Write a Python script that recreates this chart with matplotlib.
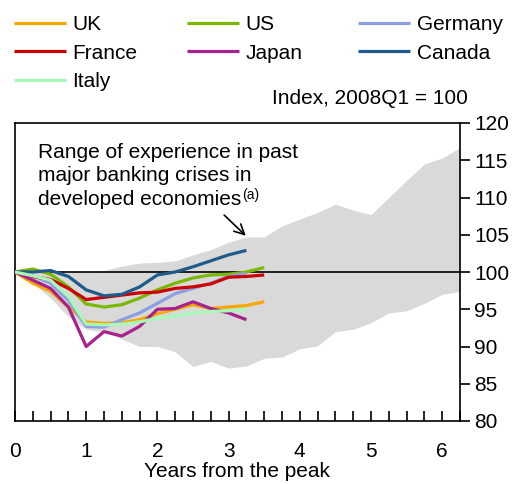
import matplotlib.pyplot as plt
import numpy as np

plt.rcParams['font.family'] = ['Liberation Sans', 'DejaVu Sans']

# quarters after the peak (years)
years = np.arange(0, 6.5, 0.25)

# range of past banking crises (grey band)
band_lo = [100, 98.5, 96.5, 94.0, 92.3, 92.0, 91.0, 90.0, 90.0, 89.3, 87.3, 88.0, 87.1,
           87.4, 88.4, 88.6, 89.7, 90.1, 92.0, 92.3, 93.2, 94.5, 94.8, 95.8, 97.0, 97.4]
band_hi = [100, 100, 100, 100, 100, 100.2, 100.8, 101.2, 101.3, 101.5, 102.3, 103.0, 104.0,
           104.7, 104.7, 106.2, 107.1, 108.0, 109.1, 108.3, 107.7, 110.0, 112.3, 114.5, 115.3, 116.7]

uk = [100, 98.5, 97.4, 95.3, 93.3, 93.1, 93.2, 93.6, 94.4, 95.0, 95.6, 95.1, 95.3, 95.5, 96.0]
us = [100, 100.4, 99.7, 98.0, 95.7, 95.3, 95.6, 96.5, 97.6, 98.5, 99.2, 99.6, 99.7, 100.0, 100.6]
germany = [100, 99.5, 98.5, 96.2, 92.7, 92.6, 93.6, 94.5, 95.8, 97.1, 97.8, 98.5, 99.4, 99.8]
france = [100, 99.4, 99.0, 97.8, 96.3, 96.6, 96.9, 97.2, 97.3, 97.8, 98.0, 98.4, 99.3, 99.4, 99.6]
japan = [100, 98.9, 97.8, 95.3, 90.0, 92.0, 91.4, 92.7, 95.0, 95.1, 96.0, 95.1, 94.5, 93.6]
canada = [100, 100.0, 100.2, 99.4, 97.6, 96.8, 97.0, 98.0, 99.6, 100.0, 100.7, 101.5, 102.3, 102.9]
italy = [100, 99.5, 98.9, 96.7, 93.0, 92.9, 93.0, 93.3, 93.8, 94.1, 94.5, 94.7, 94.8, 95.0]

series = [
    ('UK', uk, '#F5A800'),
    ('US', us, '#7AB800'),
    ('Germany', germany, '#8C9FE3'),
    ('France', france, '#CC0000'),
    ('Japan', japan, '#A6228C'),
    ('Canada', canada, '#1F5A8A'),
    ('Italy', italy, '#A8F8B8'),
]

FS = 15

fig = plt.figure(figsize=(5.15, 4.84), dpi=100)
ax = fig.add_axes([15/515, 1 - 421/484, 445/515, 298/484])

ax.fill_between(years, band_lo, band_hi, color='#D9D9D9', linewidth=0, zorder=1)
ax.axhline(100, color='black', linewidth=1.2, zorder=2)

lines = {}
for name, vals, col in series:
    ln, = ax.plot(years[:len(vals)], vals, color=col, linewidth=2.3, label=name,
                  zorder=3, solid_capstyle='butt')
    lines[name] = ln

ax.set_xlim(0, 6.25)
ax.set_ylim(80, 120)
ax.set_xticks(range(0, 7))
ax.set_xticks(np.arange(0, 6.26, 0.25), minor=True)
ax.tick_params(axis='x', which='both', direction='in', length=7, width=1.2,
               labelsize=FS, pad=15)
ax.yaxis.tick_right()
ax.set_yticks(range(80, 121, 5))
ax.tick_params(axis='y', which='both', direction='out', length=7, width=1.2,
               labelsize=FS, pad=3)
for s in ax.spines.values():
    s.set_linewidth(1.2)
ax.set_xlabel('Years from the peak', fontsize=FS, labelpad=0.5)

# annotation
txt_lines = ['Range of experience in past', 'major banking crises in', 'developed economies']
for i, t in enumerate(txt_lines):
    last = ax.text(0.32, 116.1 - i * 3.2, t, fontsize=FS, va='center', ha='left', zorder=5)
fig.canvas.draw()
bb = last.get_window_extent().transformed(ax.transData.inverted())
ax.text(bb.x1 + 0.02, 110.3, '(a)', fontsize=10, va='center', ha='left')
ax.annotate('', xy=(3.27, 104.6), xytext=(2.91, 107.9),
            arrowprops=dict(arrowstyle='->', color='black', lw=1.2,
                            mutation_scale=18))

# index label
fig.text(468/515, 1 - 98/484, 'Index, 2008Q1 = 100', fontsize=FS, ha='right', va='center')

# legend in three columns
cols = [['UK', 'France', 'Italy'], ['US', 'Japan'], ['Germany', 'Canada']]
xpos = [10/515, 183/515, 354/515]
for names, xp in zip(cols, xpos):
    fig.legend([lines[n] for n in names], names, loc='upper left',
               bbox_to_anchor=(xp, 1 - 11/484), frameon=False, fontsize=FS,
               handlelength=2.5, handletextpad=0.3, labelspacing=0.45,
               borderaxespad=0, borderpad=0.2)

fig.savefig('out.png', dpi=100)
